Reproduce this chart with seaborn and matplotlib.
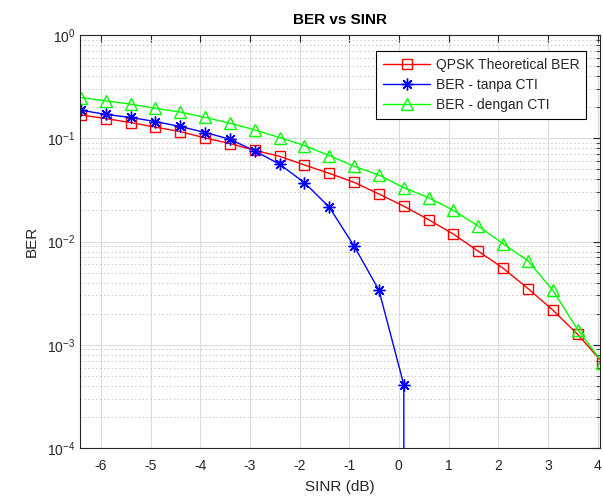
import numpy as np
import pandas as pd
import matplotlib
matplotlib.use("Agg")
import matplotlib.pyplot as plt
import seaborn as sns
from matplotlib.ticker import LogLocator, MultipleLocator, NullFormatter

# SINR axis (dB)
sinr = [-6.4, -5.9, -5.4, -4.9, -4.4, -3.9, -3.4, -2.9, -2.4, -1.9, -1.4,
        -0.9, -0.4, 0.1, 0.6, 1.1, 1.6, 2.1, 2.6, 3.1, 3.6, 4.1]

ber_theory = [0.168, 0.155, 0.142, 0.128, 0.116, 0.1006, 0.0889, 0.0764,
              0.0668, 0.0551, 0.0457, 0.0374, 0.0288, 0.0220, 0.01625,
              0.01178, 0.00805, 0.00551, 0.00350, 0.00217, 0.00126, 0.000673]

ber_tanpa = [0.187, 0.170, 0.159, 0.145, 0.130, 0.1136, 0.0978, 0.0753,
             0.0560, 0.0371, 0.0215, 0.0090, 0.00337, 0.000409,
             0, 0, 0, 0, 0, 0, 0, 0]

ber_dengan = [0.248, 0.230, 0.214, 0.195, 0.179, 0.159, 0.140, 0.1204,
              0.1016, 0.0850, 0.0679, 0.0535, 0.0440, 0.0332, 0.0266,
              0.0200, 0.0141, 0.00951, 0.00650, 0.00337, 0.00140, 0.000673]

labels = ["QPSK Theoretical BER", "BER - tanpa CTI", "BER - dengan CTI"]

sns.set_style("white")
plt.rcParams['font.family'] = ['Liberation Sans', 'DejaVu Sans']
plt.rcParams['mathtext.fontset'] = 'custom'
plt.rcParams['mathtext.rm'] = 'Liberation Sans'
plt.rcParams['mathtext.it'] = 'Liberation Sans'
plt.rcParams['axes.unicode_minus'] = False

axcol = "#262626"

fig = plt.figure(figsize=(6.03, 5.01), dpi=100)
ax = fig.add_axes([80 / 603, 1 - 448 / 501, 520 / 603, 413 / 501])

# matlab style markers: open square, asterisk (+ and x), open triangle
series = [
    (ber_theory, "#ff0000", "s", 7),
    (ber_tanpa, "#0000ff", (8, 2, 0), 8.5),
    (ber_dengan, "#00ff00", "^", 8.5),
]
for (vals, col, mk, ms), lab in zip(series, labels):
    df = pd.DataFrame({"SINR": sinr, "BER": vals})
    sns.lineplot(data=df, x="SINR", y="BER", ax=ax, color=col, marker=mk,
                 markersize=ms, markerfacecolor="none", markeredgecolor=col,
                 markeredgewidth=1.0, linewidth=1.0, label=lab,
                 estimator=None, sort=False)

ax.set_yscale("log")
ax.set_ylim(1e-4, 1)
ax.set_xlim(-6.42, 4.05)
ax.xaxis.set_major_locator(MultipleLocator(1))
ax.yaxis.set_major_locator(LogLocator(base=10, numticks=10))
ax.yaxis.set_minor_locator(LogLocator(base=10, subs=np.arange(2, 10), numticks=20))
ax.yaxis.set_minor_formatter(NullFormatter())

ax.grid(which="major", color="#dcdcdc", linewidth=0.8, linestyle="-")
ax.grid(which="minor", axis="y", color="#c8c8c8", linewidth=0.7, linestyle=(0, (1.5, 2.5)))
ax.set_axisbelow(True)

for s in ax.spines.values():
    s.set_color(axcol)
    s.set_linewidth(0.8)
ax.tick_params(which="both", direction="in", top=True, right=True,
               colors=axcol, labelcolor=axcol, labelsize=10)
ax.tick_params(which="major", length=5, width=0.8)
ax.tick_params(which="minor", length=3, width=0.6)
ax.tick_params(axis="x", pad=8)

ax.set_title("BER vs SINR", fontsize=11, fontweight="bold", color="black", pad=8)
ax.set_xlabel("SINR (dB)", fontsize=11, color=axcol, labelpad=5)
ax.set_ylabel("BER", fontsize=11, color=axcol, labelpad=6)

leg = ax.legend(loc="upper right", bbox_to_anchor=(0.974, 0.962), fontsize=10,
                frameon=True, fancybox=False, edgecolor="black",
                handlelength=3.4, handletextpad=0.4, labelspacing=0.45,
                borderpad=0.5, borderaxespad=0)
leg.get_frame().set_linewidth(0.8)
leg.get_frame().set_alpha(1)

fig.savefig("out.png", dpi=100)
